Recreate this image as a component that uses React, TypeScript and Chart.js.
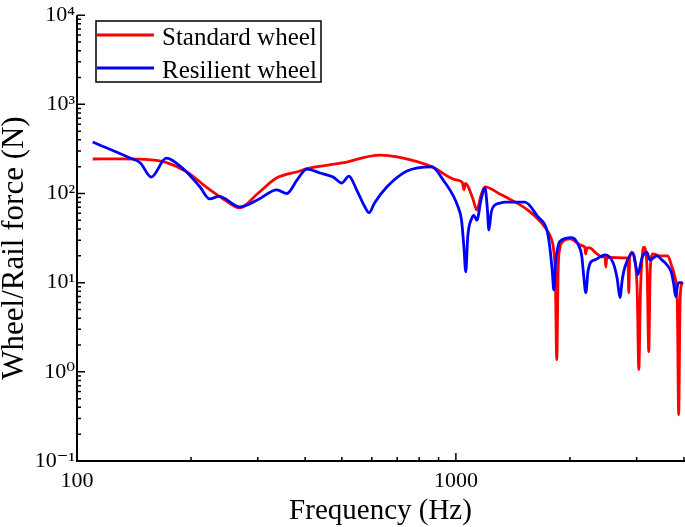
import React, { useEffect, useRef } from 'react';
import { Chart, registerables } from 'chart.js';

Chart.register(...registerables);

const SERIF = "'Liberation Serif', 'Times New Roman', 'DejaVu Serif', serif";

// Standard wheel (red) - frequency in Hz, force in N
const standardFreq = [
  110, 130, 150, 170, 195, 220, 245, 269, 300, 337, 388, 404, 500, 630, 700, 865,
  1000, 1040, 1050, 1060, 1075, 1110, 1136, 1165, 1193, 1306, 1350, 1549, 1717, 1791,
  1810, 1830, 1846, 1862, 1880, 1904, 2000, 2150, 2189, 2200, 2218, 2257, 2328, 2429,
  2475, 2488, 2502, 2826, 2845, 2860, 2875, 2912, 2960, 3010, 3040, 3070, 3110, 3133,
  3180, 3200, 3229, 3255, 3280, 3311, 3450, 3626, 3700, 3784, 3840, 3873, 3905, 3940, 3970,
];
const standardForce = [
  244, 245, 242, 226, 175, 117, 85, 69, 100, 150, 179, 190, 220, 270, 257, 199,
  142, 133, 110, 130, 122, 86, 65, 95, 119, 99, 92, 65, 42, 30,
  24, 12, 1.37, 14, 24, 28, 31, 26, 25, 21, 24.5, 24.6, 22, 19.5,
  19.3, 15, 19.2, 19, 18.5, 7.7, 19, 22, 19, 8, 1.06, 8, 22, 25,
  20, 12, 1.68, 12, 19, 21, 20, 20, 16, 11.6, 6, 0.33, 6, 9.5, 10,
];

// Resilient wheel (blue)
const resilientFreq = [
  110, 138, 147, 157, 172, 192, 211, 224, 237, 269, 300, 337, 358, 381, 404, 438,
  474, 500, 522, 547, 575, 590, 610, 658, 743, 865, 925, 982, 1013, 1035, 1050, 1062,
  1075, 1102, 1115, 1136, 1165, 1193, 1210, 1222, 1240, 1268, 1306, 1347, 1521, 1645,
  1738, 1770, 1795, 1814, 1833, 1858, 1880, 2024, 2100, 2150, 2170, 2203, 2230, 2270,
  2328, 2473, 2600, 2666, 2710, 2750, 2793, 2931, 2980, 3020, 3100, 3191, 3251, 3390,
  3497, 3600, 3707, 3760, 3802, 3840, 3873, 3970,
];
const resilientForce = [
  378, 250, 220, 153, 250, 184, 119, 87, 93, 71, 85, 110, 100, 142, 188, 170,
  153, 131, 157, 110, 71, 61, 78.5, 119, 179, 199, 142, 96, 71, 50, 25, 13.2,
  33, 53, 57, 50, 85, 116, 70, 39, 62, 74.5, 78, 80, 80, 55,
  39, 25, 13.9, 8.3, 16.7, 25, 29, 32, 27, 19.6, 13, 7.7, 13, 17,
  18, 20.5, 16.7, 11, 6.8, 11, 15, 21.5, 16, 12.3, 19, 22, 18, 20,
  18, 16, 12.9, 9.5, 7.0, 9, 10, 10,
];

const xTicks = [100, 1000];
const yTicks = [0.1, 1, 10, 100, 1000, 10000];
const yTitle = 'Wheel/Rail force (N)';

const SUP: Record<string, string> = { '-': '⁻', '0': '⁰', '1': '¹', '2': '²', '3': '³', '4': '⁴' };
const powLabel = (v: number) =>
  '10' + String(Math.round(Math.log10(v))).split('').map(c => SUP[c]).join('');

// axes drawn by hand so the ticks can point inwards
const axesPlugin = {
  id: 'axesInward',
  afterDraw(chart: any) {
    const { ctx, chartArea } = chart;
    const { left, right, top, bottom } = chartArea;
    const xs = chart.scales.x;
    const ys = chart.scales.y;
    ctx.save();
    ctx.strokeStyle = '#000';
    ctx.lineWidth = 2;
    ctx.beginPath();
    ctx.moveTo(left, top);
    ctx.lineTo(left, bottom);
    ctx.lineTo(right + 1, bottom);
    ctx.stroke();

    ctx.lineWidth = 1.5;
    ctx.beginPath();
    yTicks.forEach(dec => {
      const py = ys.getPixelForValue(dec);
      ctx.moveTo(left, py);
      ctx.lineTo(left + 8, py);
      if (dec < 10000) {
        for (let m = 2; m < 10; m++) {
          const p = ys.getPixelForValue(dec * m);
          ctx.moveTo(left, p);
          ctx.lineTo(left + 4, p);
        }
      }
    });
    xTicks.forEach(dec => {
      const px = xs.getPixelForValue(dec);
      ctx.moveTo(px, bottom);
      ctx.lineTo(px, bottom - 8);
      for (let m = 2; m < 10; m++) {
        const v = dec * m;
        if (v > 4000) break;
        const p = Math.min(xs.getPixelForValue(v), right);
        ctx.moveTo(p, bottom);
        ctx.lineTo(p, bottom - 4);
      }
    });
    ctx.stroke();

    // y axis title, a little below the centre of the plot as in the original
    ctx.fillStyle = '#000';
    ctx.font = `31px ${SERIF}`;
    ctx.translate(15, 248);
    ctx.rotate(-Math.PI / 2);
    ctx.textAlign = 'center';
    ctx.textBaseline = 'middle';
    ctx.fillText(yTitle, 0, 0);
    ctx.setTransform(1, 0, 0, 1, 0, 0);

    // legend box
    ctx.strokeStyle = '#000';
    ctx.lineWidth = 1.5;
    ctx.strokeRect(96, 21, 225, 61);
    const rows = [35, 68];
    chart.data.datasets.forEach((ds: any, i: number) => {
      ctx.strokeStyle = ds.borderColor;
      ctx.lineWidth = 3;
      ctx.beginPath();
      ctx.moveTo(97, rows[i]);
      ctx.lineTo(154, rows[i]);
      ctx.stroke();
      ctx.fillStyle = '#000';
      ctx.font = `25px ${SERIF}`;
      ctx.textAlign = 'left';
      ctx.textBaseline = 'alphabetic';
      ctx.fillText(ds.label, 162, rows[i] + 10);
    });
    ctx.restore();
  },
};

const App: React.FC = () => {
  const canvasRef = useRef<HTMLCanvasElement>(null);
  const chartRef = useRef<Chart | null>(null);

  useEffect(() => {
    if (!canvasRef.current) return;
    if (chartRef.current) chartRef.current.destroy();

    chartRef.current = new Chart(canvasRef.current, {
      type: 'line',
      data: {
        datasets: [
          {
            label: 'Standard wheel',
            data: standardFreq.map((f, i) => ({ x: f, y: standardForce[i] })),
            borderColor: '#ff0000',
            borderWidth: 2.8,
            pointRadius: 0,
            cubicInterpolationMode: 'monotone',
            order: 2,
          },
          {
            label: 'Resilient wheel',
            data: resilientFreq.map((f, i) => ({ x: f, y: resilientForce[i] })),
            borderColor: '#0000ff',
            borderWidth: 2.8,
            pointRadius: 0,
            cubicInterpolationMode: 'monotone',
            order: 1,
          },
        ],
      },
      options: {
        responsive: false,
        animation: false,
        layout: { padding: { top: 15, right: 1, left: 0, bottom: 0 } },
        plugins: {
          legend: { display: false },
          tooltip: { enabled: false },
        },
        scales: {
          x: {
            type: 'logarithmic',
            min: 100,
            max: 4000,
            afterBuildTicks: (s: any) => {
              s.ticks = xTicks.map(v => ({ value: v }));
            },
            afterFit: (s: any) => {
              s.height = 66;
            },
            ticks: {
              callback: (v: any) => String(v),
              color: '#000',
              font: { family: SERIF, size: 22 },
              padding: 7,
              maxRotation: 0,
              autoSkip: false,
            },
            grid: { display: false, drawTicks: false },
            border: { display: false },
            title: {
              display: true,
              text: 'Frequency (Hz)',
              color: '#000',
              font: { family: SERIF, size: 29, lineHeight: 1 },
              padding: { top: 0, bottom: 1 },
            },
          },
          y: {
            type: 'logarithmic',
            min: 0.1,
            max: 10000,
            afterBuildTicks: (s: any) => {
              s.ticks = yTicks.map(v => ({ value: v }));
            },
            afterFit: (s: any) => {
              s.width = 77;
            },
            ticks: {
              callback: (v: any) => powLabel(Number(v)),
              color: '#000',
              font: { family: SERIF, size: 22 },
              padding: 2,
              autoSkip: false,
            },
            grid: { display: false, drawTicks: false },
            border: { display: false },
          },
        },
      },
      plugins: [axesPlugin],
    });

    return () => {
      if (chartRef.current) {
        chartRef.current.destroy();
        chartRef.current = null;
      }
    };
  }, []);

  return (
    <div style={{ position: 'fixed', left: 0, top: 0, width: 685, height: 527, background: '#fff' }}>
      <canvas ref={canvasRef} width={685} height={527}></canvas>
    </div>
  );
};

export default App;
